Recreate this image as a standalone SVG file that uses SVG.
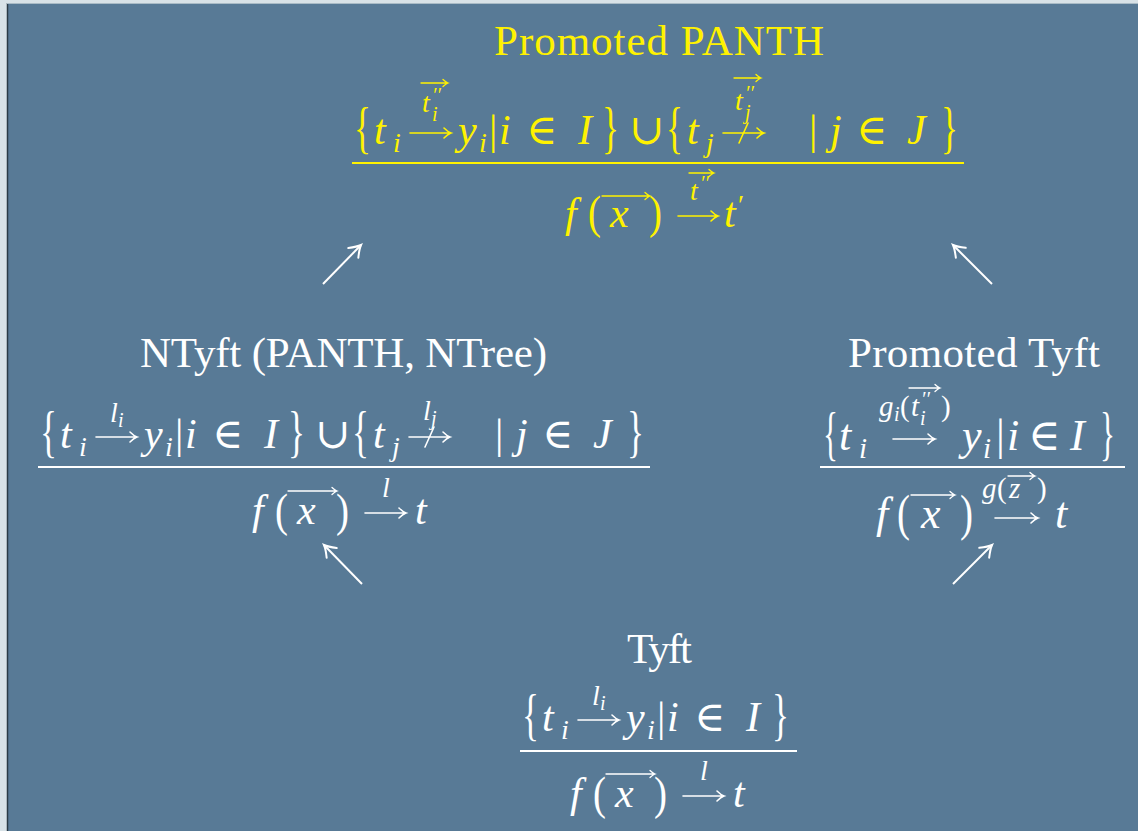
<svg xmlns="http://www.w3.org/2000/svg" width="1138" height="831" viewBox="0 0 1138 831">
<style>
text{font-family:"Liberation Serif","DejaVu Serif",serif}
.tt{font-size:43px}
.m{font-size:42px}
.mi{font-size:42px;font-style:italic}
.s{font-size:28px;font-style:italic}
.ss{font-size:20px;font-style:italic}
.sr{font-size:28px}
.br{font-size:56px}
.pr{font-size:46px}
.w{fill:#fff}
.yl{fill:#fff200}
.ar{fill:none;stroke-width:1.6;stroke-linecap:round}
.va{fill:none;stroke-width:1.3;stroke-linecap:round}
.fl{fill:none;stroke-width:2}
.sw{stroke:#fff}
.sy{stroke:#fff200}
.cn{fill:none;stroke:#fff;stroke-width:2}
</style>
<defs>
<marker id="head" markerUnits="userSpaceOnUse" markerWidth="24" markerHeight="24" refX="0" refY="0" viewBox="-12 -12 24 24" orient="auto" overflow="visible">
<path d="M-11,-7Q-4,-1.5 0,0Q-4,1.5 -11,7" fill="none" stroke="#fff" stroke-width="2" stroke-linecap="round"/>
</marker>
</defs>
<rect x="0" y="0" width="1138" height="831" fill="#d8e2e7"/>
<rect x="7" y="3" width="1131" height="828" fill="#587a96"/>
<path d="M7.5,3V831" stroke="#2b3b45" stroke-width="1.5"/>
<path d="M7,3.5H1138" stroke="#a9bbc6" stroke-width="1"/>

<g id="connectors">
<path class="cn" d="M323,284L361,245" marker-end="url(#head)"/>
<path class="cn" d="M992,284L953,245" marker-end="url(#head)"/>
<path class="cn" d="M362,584L324,545" marker-end="url(#head)"/>
<path class="cn" d="M953,584L992,545" marker-end="url(#head)"/>
</g>

<g id="promoted-panth">
<text class="tt yl" x="494" y="55" textLength="330">Promoted PANTH</text>
<g transform="translate(354,144)" class="yl">
<text class="br" x="0" y="3" textLength="17" lengthAdjust="spacingAndGlyphs">{</text>
<text class="mi" x="20" y="0">t</text>
<text class="s" x="39" y="8">i</text>
<path class="ar sy" d="M56,-11H97M90,-16Q94,-12 97,-11Q94,-10 90,-6"/>
<text class="s" x="68" y="-32">t</text>
<text class="ss" x="78" y="-42">′′</text>
<text class="ss" x="78" y="-23">i</text>
<path class="va sy" d="M67,-61H94M89,-64.5Q92,-61.7 94,-61Q92,-60.3 89,-57.5"/>
<text class="mi" x="104" y="0">y</text>
<text class="s" x="125" y="8">i</text>
<text class="m" x="135" y="0">|</text>
<text class="mi" x="145" y="0">i</text>
<text class="m" x="172" y="0">∈</text>
<text class="mi" x="224" y="0">I</text>
<text class="br" x="248" y="3" textLength="17" lengthAdjust="spacingAndGlyphs">}</text>
<text class="m" x="275" y="0">∪</text>
<text class="br" x="312" y="3" textLength="17" lengthAdjust="spacingAndGlyphs">{</text>
<text class="mi" x="333" y="0">t</text>
<text class="s" x="352" y="8">j</text>
<path class="ar sy" d="M369,-11H410M403,-16Q407,-12 410,-11Q407,-10 403,-6M385,-1L394,-21"/>
<text class="s" x="381" y="-34">t</text>
<text class="ss" x="391" y="-44">′′</text>
<text class="ss" x="391" y="-25">j</text>
<path class="va sy" d="M380,-66H407M402,-69.5Q405,-66.7 407,-66Q405,-65.3 402,-62.5"/>
<text class="m" x="455" y="0">|</text>
<text class="mi" x="476" y="0">j</text>
<text class="m" x="502" y="0">∈</text>
<text class="mi" x="553" y="0">J</text>
<text class="br" x="587" y="3" textLength="17" lengthAdjust="spacingAndGlyphs">}</text>
<path class="fl sy" d="M-2,19H610"/>
<text class="mi" x="211" y="83">f</text>
<text class="pr" x="234" y="84" textLength="13" lengthAdjust="spacingAndGlyphs">(</text>
<text class="mi" x="256" y="83">x</text>
<path class="va sy" d="M248,52H296M291,48.5Q294,51.3 296,52Q294,52.7 291,55.5"/>
<text class="pr" x="295" y="84" textLength="13" lengthAdjust="spacingAndGlyphs">)</text>
<path class="ar sy" d="M324,72H364M357,67Q361,71 364,72Q361,73 357,77"/>
<text class="s" x="336" y="56">t</text>
<text class="ss" x="346" y="46">′′</text>
<path class="va sy" d="M335,29H360M355,25.5Q358,28.3 360,29Q358,29.7 355,32.5"/>
<text class="mi" x="370" y="83">t</text>
<text class="sr" x="384" y="70">′</text>
</g>
</g>

<g id="ntyft">
<text class="tt w" x="140" y="367" textLength="407">NTyft (PANTH, NTree)</text>
<g transform="translate(40,448)" class="w">
<text class="br" x="0" y="3" textLength="17" lengthAdjust="spacingAndGlyphs">{</text>
<text class="mi" x="20" y="0">t</text>
<text class="s" x="39" y="8">i</text>
<path class="ar sw" d="M56,-11H97M90,-16Q94,-12 97,-11Q94,-10 90,-6"/>
<text class="s" x="70" y="-26">l</text>
<text class="ss" x="78" y="-21">i</text>
<text class="mi" x="104" y="0">y</text>
<text class="s" x="125" y="8">i</text>
<text class="m" x="135" y="0">|</text>
<text class="mi" x="145" y="0">i</text>
<text class="m" x="172" y="0">∈</text>
<text class="mi" x="224" y="0">I</text>
<text class="br" x="248" y="3" textLength="17" lengthAdjust="spacingAndGlyphs">}</text>
<text class="m" x="275" y="0">∪</text>
<text class="br" x="312" y="3" textLength="17" lengthAdjust="spacingAndGlyphs">{</text>
<text class="mi" x="333" y="0">t</text>
<text class="s" x="352" y="8">j</text>
<path class="ar sw" d="M369,-11H410M403,-16Q407,-12 410,-11Q407,-10 403,-6M385,-1L394,-21"/>
<text class="s" x="383" y="-28">l</text>
<text class="ss" x="391" y="-23">j</text>
<text class="m" x="455" y="0">|</text>
<text class="mi" x="476" y="0">j</text>
<text class="m" x="502" y="0">∈</text>
<text class="mi" x="553" y="0">J</text>
<text class="br" x="587" y="3" textLength="17" lengthAdjust="spacingAndGlyphs">}</text>
<path class="fl sw" d="M-2,19H610"/>
<text class="mi" x="212" y="76">f</text>
<text class="pr" x="235" y="78" textLength="13" lengthAdjust="spacingAndGlyphs">(</text>
<text class="mi" x="257" y="76">x</text>
<path class="va sw" d="M248,43H297M292,39.5Q295,42.3 297,43Q295,43.7 292,46.5"/>
<text class="pr" x="296" y="78" textLength="13" lengthAdjust="spacingAndGlyphs">)</text>
<path class="ar sw" d="M325,65H366M359,60Q363,64 366,65Q363,66 359,70"/>
<text class="s" x="342" y="49">l</text>
<text class="mi" x="375" y="76">t</text>
</g>
</g>

<g id="promoted-tyft">
<text class="tt w" x="848" y="367" textLength="252">Promoted Tyft</text>
<g transform="translate(823,450)" class="w">
<text class="br" x="0" y="3" style="font-size:60px" textLength="15" lengthAdjust="spacingAndGlyphs">{</text>
<text class="mi" x="16" y="0" style="font-size:44px">t</text>
<text class="s" x="36" y="8" style="font-size:29px">i</text>
<text class="s" x="56" y="-34" style="font-size:29px">g</text>
<text class="ss" x="71" y="-29">i</text>
<text class="sr" x="77" y="-34" style="font-size:29px">(</text>
<text class="s" x="88" y="-34" style="font-size:29px">t</text>
<text class="ss" x="98" y="-44">′′</text>
<text class="ss" x="97" y="-25">i</text>
<path class="va sw" d="M86,-62H117M112,-65.5Q115,-62.7 117,-62Q115,-61.3 112,-58.5"/>
<text class="sr" x="118" y="-34" style="font-size:29px">)</text>
<path class="ar sw" d="M70,-11H112M105,-16Q109,-12 112,-11Q109,-10 105,-6"/>
<text class="mi" x="139" y="0" style="font-size:44px">y</text>
<text class="s" x="160" y="8" style="font-size:29px">i</text>
<text class="m" x="173" y="0" style="font-size:44px">|</text>
<text class="mi" x="184" y="0" style="font-size:44px">i</text>
<text class="m" x="205" y="0" style="font-size:44px">∈</text>
<text class="mi" x="247" y="0" style="font-size:44px">I</text>
<text class="br" x="277" y="3" style="font-size:60px" textLength="15" lengthAdjust="spacingAndGlyphs">}</text>
<path class="fl sw" d="M-3,17H302"/>
<text class="mi" x="53" y="78" style="font-size:44px">f</text>
<text class="pr" x="74" y="80" style="font-size:50px" textLength="13" lengthAdjust="spacingAndGlyphs">(</text>
<text class="mi" x="98" y="78" style="font-size:44px">x</text>
<path class="va sw" d="M88,45H132M127,41.5Q130,44.3 132,45Q130,45.7 127,48.5"/>
<text class="pr" x="137" y="80" style="font-size:50px" textLength="13" lengthAdjust="spacingAndGlyphs">)</text>
<text class="s" x="159" y="48" style="font-size:29px">g</text>
<text class="sr" x="174" y="48" style="font-size:29px">(</text>
<text class="s" x="186" y="48" style="font-size:29px">z</text>
<path class="va sw" d="M185,26H212M207,22.5Q210,25.3 212,26Q210,26.7 207,29.5"/>
<text class="sr" x="214" y="48" style="font-size:29px">)</text>
<path class="ar sw" d="M172,68H215M208,63Q212,67 215,68Q212,69 208,73"/>
<text class="mi" x="232" y="78" style="font-size:44px">t</text>
</g>
</g>

<g id="tyft">
<text class="tt w" x="627" y="663" textLength="65">Tyft</text>
<g transform="translate(522,731)" class="w">
<text class="br" x="0" y="3" textLength="17" lengthAdjust="spacingAndGlyphs">{</text>
<text class="mi" x="20" y="0">t</text>
<text class="s" x="39" y="8">i</text>
<path class="ar sw" d="M56,-11H97M90,-16Q94,-12 97,-11Q94,-10 90,-6"/>
<text class="s" x="70" y="-26">l</text>
<text class="ss" x="78" y="-21">i</text>
<text class="mi" x="104" y="0">y</text>
<text class="s" x="125" y="8">i</text>
<text class="m" x="135" y="0">|</text>
<text class="mi" x="145" y="0">i</text>
<text class="m" x="172" y="0">∈</text>
<text class="mi" x="224" y="0">I</text>
<text class="br" x="250" y="3" textLength="17" lengthAdjust="spacingAndGlyphs">}</text>
<path class="fl sw" d="M-2,20H275"/>
<text class="mi" x="48" y="76">f</text>
<text class="pr" x="71" y="78" textLength="13" lengthAdjust="spacingAndGlyphs">(</text>
<text class="mi" x="93" y="76">x</text>
<path class="va sw" d="M84,43H133M128,39.5Q131,42.3 133,43Q131,43.7 128,46.5"/>
<text class="pr" x="132" y="78" textLength="13" lengthAdjust="spacingAndGlyphs">)</text>
<path class="ar sw" d="M161,65H202M195,60Q199,64 202,65Q199,66 195,70"/>
<text class="s" x="178" y="49">l</text>
<text class="mi" x="211" y="76">t</text>
</g>
</g>
</svg>
